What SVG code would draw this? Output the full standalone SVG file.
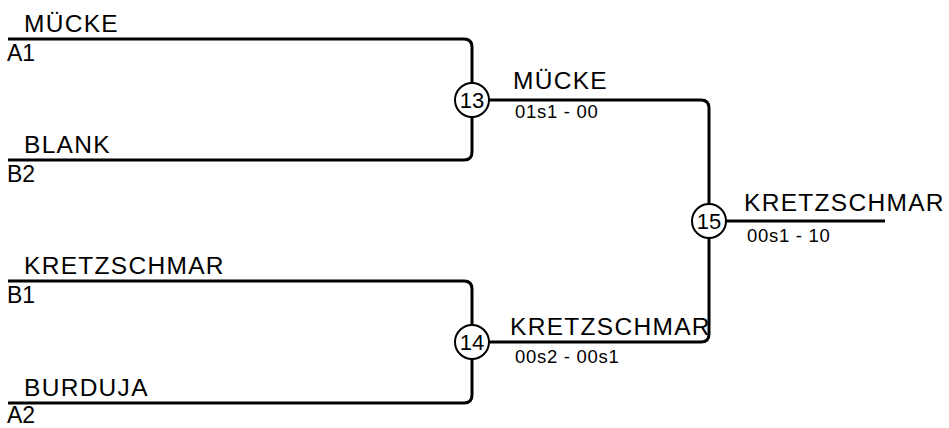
<svg xmlns="http://www.w3.org/2000/svg" width="949" height="428" viewBox="0 0 949 428">
<style>
.ln{fill:none;stroke:#000;stroke-width:3;stroke-linejoin:round}
.nm{font-family:"Liberation Sans",Arial,sans-serif;font-size:24.5px;letter-spacing:1.3px;fill:#000}
.sd{font-family:"Liberation Sans",Arial,sans-serif;font-size:23px;fill:#000}
.sc{font-family:"Liberation Sans",Arial,sans-serif;font-size:18.5px;letter-spacing:0.7px;fill:#000}
.cc{fill:#fff;stroke:#000;stroke-width:2}
.cn{font-family:"Liberation Sans",Arial,sans-serif;font-size:22px;fill:#000;text-anchor:middle}
</style>
<rect width="949" height="428" fill="#fff"/>
<g id="connectors">
<path class="ln" d="M8,39 H464 Q472,39 472,47 V152 Q472,160 464,160 H8"/>
<path class="ln" d="M8,281 H464 Q472,281 472,289 V395 Q472,403 464,403 H8"/>
<path class="ln" d="M472,100 H701 Q709,100 709,108 V334 Q709,342 701,342 H472"/>
<path class="ln" d="M709,221 H885"/>
</g>
<g id="slot-a1"><text class="nm" x="24" y="32">MÜCKE</text><text class="sd" x="7" y="61">A1</text></g>
<g id="slot-b2"><text class="nm" x="24" y="153">BLANK</text><text class="sd" x="7" y="182">B2</text></g>
<g id="slot-b1"><text class="nm" x="24" y="274">KRETZSCHMAR</text><text class="sd" x="7" y="303">B1</text></g>
<g id="slot-a2"><text class="nm" x="24" y="396">BURDUJA</text><text class="sd" x="7" y="423">A2</text></g>
<g id="match-13"><circle class="cc" cx="472" cy="100" r="17"/><text class="cn" x="472" y="108">13</text><text class="nm" x="513" y="89">MÜCKE</text><text class="sc" x="515" y="118">01s1 - 00</text></g>
<g id="match-14"><circle class="cc" cx="472" cy="342" r="17"/><text class="cn" x="472" y="350">14</text><text class="nm" x="510" y="335">KRETZSCHMAR</text><text class="sc" x="515" y="363">00s2 - 00s1</text></g>
<g id="match-15"><circle class="cc" cx="709" cy="221" r="17"/><text class="cn" x="709" y="229">15</text><text class="nm" x="744" y="211">KRETZSCHMAR</text><text class="sc" x="747" y="242">00s1 - 10</text></g>
</svg>
